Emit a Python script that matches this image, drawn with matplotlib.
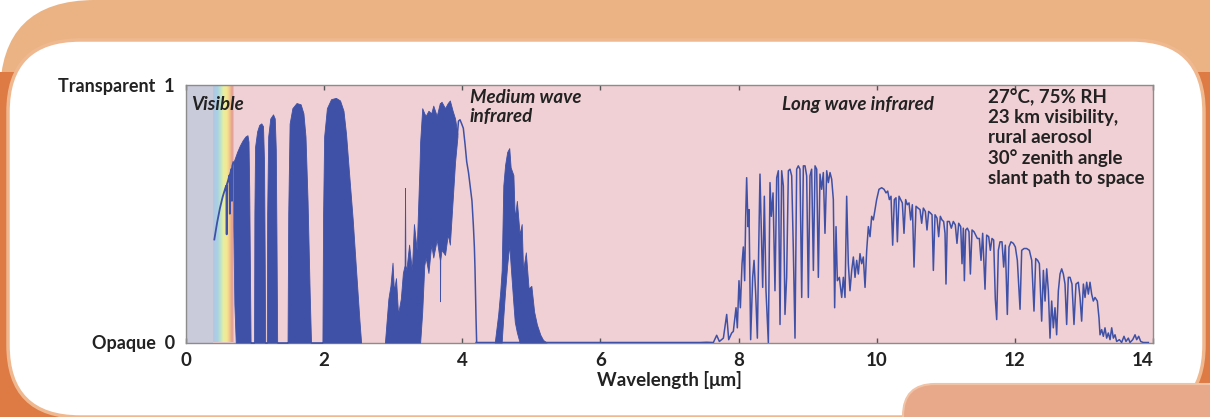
import matplotlib
matplotlib.use("Agg")
import matplotlib.pyplot as plt
from matplotlib.patches import FancyBboxPatch, Rectangle
from matplotlib.colors import LinearSegmentedColormap
import numpy as np

# ---------------- data ----------------
# visible part: thin line with a few spikes
vis_x = [0.41, 0.45, 0.49, 0.53, 0.57, 0.585, 0.589, 0.593, 0.61, 0.63, 0.635, 0.64, 0.66, 0.665, 0.67, 0.685]
vis_y = [0.40, 0.465, 0.52, 0.565, 0.60, 0.61, 0.42, 0.615, 0.63, 0.65, 0.50, 0.655, 0.675, 0.55, 0.685, 0.70]

# near-infrared dense bands (upper envelope / lower envelope)
nir_x = [0.685, 0.70, 0.72, 0.74, 0.78, 0.82, 0.86, 0.89, 0.905, 0.915, 0.925, 0.935,
         0.985, 0.99, 1.00, 1.03, 1.06, 1.09, 1.115, 1.13, 1.14, 1.145,
         1.17, 1.175, 1.19, 1.22, 1.26, 1.285, 1.30, 1.31, 1.32,
         1.47, 1.48, 1.50, 1.54, 1.60, 1.66, 1.70, 1.73, 1.76, 1.79, 1.81,
         1.975, 1.985, 2.00, 2.04, 2.10, 2.17, 2.23, 2.28, 2.317, 2.36, 2.413, 2.46, 2.51, 2.535]
nir_top = [0.70, 0.71, 0.725, 0.74, 0.765, 0.785, 0.80, 0.805, 0.78, 0.60, 0.30, 0.0,
           0.0, 0.50, 0.76, 0.82, 0.845, 0.851, 0.84, 0.70, 0.30, 0.0,
           0.0, 0.50, 0.80, 0.87, 0.886, 0.87, 0.75, 0.40, 0.0,
           0.0, 0.50, 0.85, 0.91, 0.93, 0.925, 0.89, 0.80, 0.55, 0.20, 0.0,
           0.0, 0.50, 0.80, 0.91, 0.945, 0.95, 0.94, 0.90, 0.81, 0.66, 0.48, 0.29, 0.09, 0.0]
nir_low = [0.45, 0.15] + [0.0] * (len(nir_x) - 2)

# mid-wave infrared dense cluster
mw_x = [2.88, 2.93, 2.96, 2.99, 3.01, 3.04, 3.07, 3.11, 3.14, 3.165, 3.171, 3.177, 3.19, 3.23,
        3.27, 3.30, 3.34, 3.38, 3.39, 3.42, 3.45, 3.47, 3.51, 3.55, 3.58, 3.63, 3.675, 3.678,
        3.681, 3.70, 3.75, 3.79, 3.82, 3.86, 3.895, 3.93]
mw_top = [0.0, 0.17, 0.22, 0.31, 0.20, 0.25, 0.11, 0.17, 0.27, 0.30, 0.60, 0.30, 0.28, 0.38,
          0.28, 0.46, 0.36, 0.68, 0.78, 0.91, 0.89, 0.88, 0.90, 0.89, 0.92, 0.88, 0.93, 0.93,
          0.93, 0.935, 0.91, 0.93, 0.94, 0.90, 0.87, 0.81]
mw_low = [0.0] * 18 + [0.0, 0.12, 0.30, 0.33, 0.27, 0.38, 0.33, 0.40, 0.32, 0.16,
                       0.32, 0.36, 0.34, 0.42, 0.38, 0.55, 0.70, 0.80]

# mid-wave thin edge line
mwl_x = [3.93, 3.945, 3.967, 3.99, 4.015, 4.04, 4.064, 4.09, 4.112, 4.14, 4.16, 4.175, 4.184, 4.199, 4.208]
mwl_y = [0.81, 0.86, 0.865, 0.85, 0.832, 0.77, 0.702, 0.66, 0.612, 0.55, 0.456, 0.37, 0.288, 0.094, 0.0]

# CO2 4.5-5 um cluster
cl_x = [4.47, 4.52, 4.55, 4.57, 4.594, 4.62, 4.65, 4.68, 4.70, 4.74, 4.76, 4.79, 4.83, 4.86,
        4.88, 4.92, 4.96, 5.00, 5.04, 5.08, 5.13, 5.17, 5.22]
cl_top = [0.0, 0.11, 0.20, 0.28, 0.61, 0.69, 0.74, 0.755, 0.68, 0.65, 0.48, 0.55, 0.42, 0.46,
          0.28, 0.35, 0.21, 0.22, 0.12, 0.07, 0.03, 0.01, 0.0]
cl_low = [0.0, 0.0, 0.0, 0.0, 0.10, 0.20, 0.30, 0.38, 0.30, 0.15, 0.08, 0.04, 0.0, 0.0,
          0.0, 0.0, 0.0, 0.0, 0.0, 0.0, 0.0, 0.0, 0.0]

# long-wave infrared thin line
lw_x = [4.20, 7.442, 7.538, 7.635, 7.683, 7.722, 7.780, 7.828, 7.857, 7.900, 7.924, 7.963, 7.982,
        8.006, 8.026, 8.050, 8.069, 8.088, 8.103, 8.117, 8.137, 8.151, 8.175, 8.204, 8.224, 8.248,
        8.272, 8.291, 8.310, 8.330, 8.349, 8.373, 8.397, 8.431, 8.455, 8.474, 8.499, 8.527, 8.552,
        8.576, 8.600, 8.624, 8.648, 8.672, 8.696, 8.721, 8.745, 8.769, 8.793, 8.817, 8.841, 8.865,
        8.889, 8.914, 8.938, 8.962, 8.986, 9.010, 9.034, 9.058, 9.083, 9.107, 9.131, 9.155, 9.179,
        9.203, 9.227, 9.251, 9.276, 9.300, 9.324, 9.348, 9.372, 9.391, 9.411, 9.430, 9.459, 9.493,
        9.517, 9.541, 9.565, 9.589, 9.613, 9.638, 9.662, 9.686, 9.710, 9.734, 9.758, 9.782, 9.806,
        9.831, 9.855, 9.879, 9.903, 9.927, 9.951, 9.975, 9.999, 10.033, 10.072, 10.106, 10.135,
        10.159, 10.183, 10.207, 10.231, 10.255, 10.279, 10.299, 10.323, 10.347, 10.371, 10.395,
        10.419, 10.443, 10.468, 10.492, 10.516, 10.540, 10.569, 10.598, 10.627, 10.651, 10.675,
        10.704, 10.728, 10.752, 10.777, 10.801, 10.820, 10.844, 10.873, 10.897, 10.921, 10.945,
        10.969, 10.989, 11.003, 11.022, 11.051, 11.080, 11.109, 11.138, 11.162, 11.187, 11.216,
        11.235, 11.254, 11.269, 11.288, 11.312, 11.336, 11.356, 11.380, 11.409, 11.433, 11.457,
        11.486, 11.510, 11.534, 11.568, 11.592, 11.621, 11.645, 11.669, 11.693, 11.717, 11.737,
        11.761, 11.785, 11.814, 11.838, 11.862, 11.891, 11.915, 11.944, 11.978, 12.007, 12.036,
        12.075, 12.099, 12.133, 12.171, 12.210, 12.244, 12.277, 12.302, 12.330, 12.355, 12.388,
        12.413, 12.437, 12.461, 12.485, 12.509, 12.533, 12.557, 12.581, 12.605, 12.630, 12.654,
        12.678, 12.702, 12.726, 12.750, 12.774, 12.799, 12.827, 12.856, 12.885, 12.919, 12.943,
        12.967, 12.992, 13.016, 13.040, 13.064, 13.088, 13.112, 13.136, 13.160, 13.194, 13.218,
        13.233, 13.257, 13.281, 13.305, 13.329, 13.353, 13.378, 13.402, 13.426, 13.450, 13.474,
        13.513, 13.546, 13.580, 13.609, 13.643, 13.667, 13.706, 13.740, 13.764, 13.793, 13.822,
        13.860, 13.933]
lw_y = [0.0, 0.0, 0.001, 0.0, 0.028, 0.004, 0.017, 0.109, 0.011, 0.037, 0.043, 0.135, 0.057,
        0.240, 0.135, 0.306, 0.371, 0.240, 0.490, 0.640, 0.450, 0.516, 0.011, 0.253, 0.319, 0.188,
        0.017, 0.358, 0.654, 0.437, 0.214, 0.568, 0.201, 0.0, 0.621, 0.490, 0.581, 0.201, 0.640,
        0.667, 0.070, 0.667, 0.608, 0.109, 0.253, 0.667, 0.673, 0.647, 0.358, 0.017, 0.673, 0.686,
        0.673, 0.175, 0.686, 0.686, 0.647, 0.175, 0.647, 0.673, 0.280, 0.686, 0.673, 0.253, 0.654,
        0.595, 0.660, 0.424, 0.667, 0.621, 0.660, 0.634, 0.555, 0.135, 0.450, 0.240, 0.253, 0.175,
        0.253, 0.175, 0.568, 0.306, 0.201, 0.280, 0.332, 0.253, 0.319, 0.266, 0.345, 0.306, 0.332,
        0.214, 0.358, 0.450, 0.411, 0.490, 0.476, 0.516, 0.555, 0.595, 0.601, 0.595, 0.581,
        0.588, 0.555, 0.568, 0.378, 0.555, 0.562, 0.391, 0.568, 0.555, 0.542, 0.424,
        0.555, 0.535, 0.542, 0.476, 0.535, 0.293, 0.529, 0.522, 0.516, 0.463, 0.522,
        0.509, 0.437, 0.509, 0.503, 0.496, 0.280, 0.496, 0.483, 0.411, 0.490, 0.476,
        0.470, 0.424, 0.227, 0.470, 0.470, 0.444, 0.470, 0.457, 0.385, 0.463, 0.450,
        0.306, 0.444, 0.240, 0.437, 0.444, 0.430, 0.266, 0.437, 0.430, 0.417, 0.404,
        0.404, 0.319, 0.424, 0.207, 0.417, 0.411, 0.358, 0.404, 0.398, 0.168, 0.089,
        0.358, 0.391, 0.391, 0.293, 0.378, 0.109, 0.371, 0.391, 0.385, 0.371, 0.319,
        0.129, 0.358, 0.365, 0.365, 0.358, 0.319, 0.122, 0.326, 0.319, 0.306, 0.083,
        0.280, 0.161, 0.286, 0.201, 0.017, 0.161, 0.057, 0.135, 0.030, 0.201, 0.266,
        0.286, 0.266, 0.227, 0.070, 0.253, 0.253, 0.227, 0.070, 0.227, 0.234, 0.175,
        0.083, 0.227, 0.175, 0.234, 0.188, 0.234, 0.188, 0.161, 0.175, 0.161, 0.096,
        0.030, 0.050, 0.024, 0.057, 0.017, 0.037, 0.011, 0.057, 0.017, 0.030, 0.004,
        0.011, 0.0, 0.024, 0.004, 0.017, 0.0, 0.011, 0.030, 0.011, 0.024, 0.004,
        0.0, 0.0]

x_ticks = [0, 2, 4, 6, 8, 10, 12, 14]
y_ticks = [0, 1]
y_ticklabels = ["Opaque  0", "Transparent  1"]
conditions = "27°C, 75% RH\n23 km visibility,\nrural aerosol\n30° zenith angle\nslant path to space"

# ---------------- styling ----------------
plt.rcParams["font.family"] = ["Lato", "DejaVu Sans"]
plt.rcParams["font.weight"] = "bold"

BLUE = "#3F51A6"
PINK = "#F0D0D4"
TXT = "#222222"
FS = 13.5
FS_TICK = 13

W, H = 1210, 417
fig = plt.figure(figsize=(W / 100, H / 100), dpi=100)
fig.patch.set_facecolor("white")

# decorative frame
bg = fig.add_axes([0, 0, 1, 1], zorder=-10)
bg.set_xlim(0, W)
bg.set_ylim(H, 0)
bg.axis("off")
bg.add_patch(FancyBboxPatch((0, 0), 1400, 300, boxstyle="round,pad=0,rounding_size=95",
                            fc="#EBB384", ec="none"))
bg.add_patch(Rectangle((0, 72), W, 360, fc="#DE7A44", ec="none"))
bg.add_patch(FancyBboxPatch((8, 40), 1196, 377, boxstyle="round,pad=0,rounding_size=72",
                            fc="white", ec="#EFB88F", lw=2.5))
bg.add_patch(FancyBboxPatch((903, 384), 400, 100, boxstyle="round,pad=0,rounding_size=32",
                            fc="#E8A98A", ec="#F0C2A6", lw=1.5))

# main axes
ax = fig.add_axes([186 / W, (H - 342.5) / H, 967 / W, 257.5 / H])
ax.set_facecolor(PINK)

# visible spectrum background
ax.axvspan(0, 0.39, color="#C9CBDA", lw=0, zorder=0)
rain = LinearSegmentedColormap.from_list("rain", [
    (0.0, "#B4C6E2"), (0.2, "#A8D0E6"), (0.35, "#BCE2CC"), (0.5, "#E6EEA0"),
    (0.65, "#F4EA94"), (0.8, "#F2C48C"), (0.92, "#E39A8E"), (1.0, "#EEC4C6")])
ax.imshow(np.linspace(0, 1, 200)[None, :], cmap=rain, aspect="auto",
          extent=[0.39, 0.69, 0, 1], zorder=0.5, interpolation="bilinear")

# spectrum
ax.plot(vis_x, vis_y, color=BLUE, lw=1.3, zorder=3)
ax.fill_between(nir_x, nir_low, nir_top, color=BLUE, lw=0.6, zorder=3)
ax.fill_between(mw_x, mw_low, mw_top, color=BLUE, lw=0.6, zorder=3)
ax.plot(mwl_x, mwl_y, color=BLUE, lw=1.1, zorder=3)
ax.fill_between(cl_x, cl_low, cl_top, color=BLUE, lw=0.6, zorder=3)
ax.plot(lw_x, lw_y, color=BLUE, lw=1.1, zorder=3)

ax.set_xlim(0, 14)
ax.set_ylim(0, 1)

for s in ax.spines.values():
    s.set_color("#8C8C8C")
    s.set_linewidth(1.0)

ax.set_xticks(x_ticks)
ax.set_xticklabels([str(t) for t in x_ticks])
ax.tick_params(axis="x", direction="in", top=True, length=3.5, width=1, color="#555555",
               labelsize=FS, labelcolor=TXT, pad=7)
labels = ax.get_xticklabels()
labels[-1].set_horizontalalignment("right")
ax.set_yticks(y_ticks)
ax.set_yticklabels(y_ticklabels)
ax.tick_params(axis="y", length=0, labelsize=FS_TICK, labelcolor=TXT, pad=8)
ax.set_xlabel("Wavelength [μm]", fontsize=FS, color=TXT, labelpad=1, fontweight="bold")

# annotations
ax.text(0.08, 0.925, "Visible", fontsize=FS, style="italic", color=TXT, va="center", ha="left", zorder=5)
ax.text(4.11, 0.985, "Medium wave\ninfrared", fontsize=FS, style="italic", color=TXT,
        va="top", ha="left", linespacing=1.12, zorder=5)
ax.text(8.63, 0.925, "Long wave infrared", fontsize=FS, style="italic", color=TXT,
        va="center", ha="left", zorder=5)
ax.text(11.61, 0.985, conditions, fontsize=FS, color=TXT, va="top", ha="left",
        linespacing=1.2, zorder=5)

fig.savefig("out.png", dpi=100, facecolor=fig.get_facecolor())
